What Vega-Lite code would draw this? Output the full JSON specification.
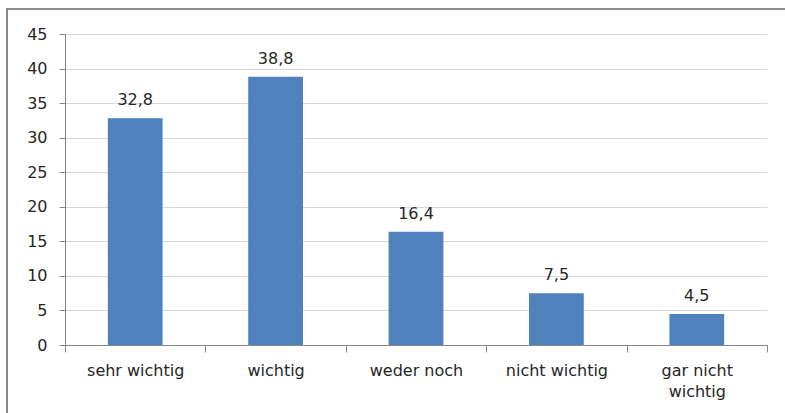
{
  "$schema": "https://vega.github.io/schema/vega-lite/v6.json",
  "autosize": {"type": "none"},
  "width": 780,
  "height": 406,
  "padding": {"left": 7, "top": 9, "right": -2, "bottom": -2},
  "background": "white",
  "data": {
    "values": [
      {"kategorie": "sehr wichtig", "prozent": 32.8},
      {"kategorie": "wichtig", "prozent": 38.8},
      {"kategorie": "weder noch", "prozent": 16.4},
      {"kategorie": "nicht wichtig", "prozent": 7.5},
      {"kategorie": "gar nicht wichtig", "prozent": 4.5}
    ]
  },
  "encoding": {
    "x": {
      "field": "kategorie",
      "type": "nominal",
      "sort": null,
      "scale": {"range": [58, 760], "paddingInner": 0, "paddingOuter": 0},
      "axis": {
        "title": null,
        "orient": "bottom",
        "offset": -70,
        "labelAngle": 0,
        "tickBand": "extent",
        "tickSize": 7,
        "tickColor": "#868686",
        "domainColor": "#868686",
        "labelPadding": 10,
        "labelFontSize": 16,
        "labelColor": "#262626",
        "labelLineHeight": 21,
        "labelExpr": "datum.label == 'gar nicht wichtig' ? ['gar nicht', 'wichtig'] : datum.label"
      }
    },
    "y": {
      "field": "prozent",
      "type": "quantitative",
      "scale": {"domain": [0, 45], "range": [336, 25], "nice": false, "zero": true},
      "axis": {
        "title": null,
        "orient": "left",
        "offset": -58,
        "values": [0, 5, 10, 15, 20, 25, 30, 35, 40, 45],
        "format": "d",
        "tickSize": 6,
        "tickColor": "#868686",
        "domainColor": "#868686",
        "gridColor": "#d9d9d9",
        "grid": true,
        "labelPadding": 12,
        "labelFontSize": 16,
        "labelColor": "#262626"
      }
    }
  },
  "layer": [
    {
      "mark": {"type": "bar", "color": "#4f81bd", "width": {"band": 0.39}}
    },
    {
      "mark": {"type": "text", "dy": -13, "baseline": "alphabetic", "fontSize": 16, "color": "#262626"},
      "encoding": {
        "text": {"field": "prozent", "type": "quantitative", "format": ".1f"}
      }
    }
  ],
  "config": {
    "font": "DejaVu Sans",
    "locale": {
      "number": {"decimal": ",", "thousands": ".", "grouping": [3], "currency": ["", " €"]}
    },
    "view": {"stroke": "#8c8c8c", "strokeWidth": 2, "fill": "white"},
    "axis": {"domainWidth": 1, "tickWidth": 1, "gridWidth": 1}
  }
}
